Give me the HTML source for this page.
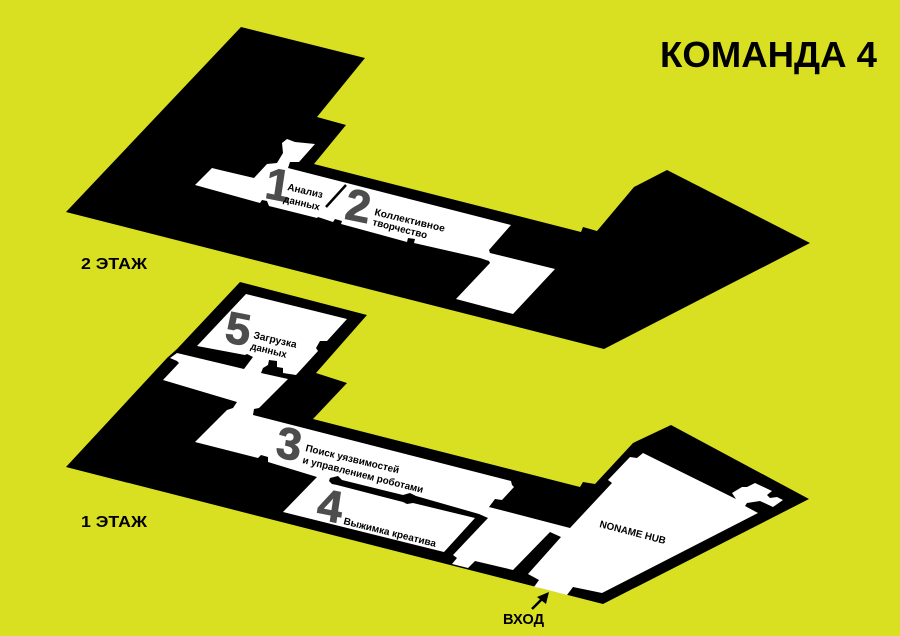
<!DOCTYPE html>
<html><head><meta charset="utf-8"><style>
html,body{margin:0;padding:0;background:#d9e021}
svg{display:block}
text{font-family:"Liberation Sans",sans-serif;font-weight:bold;fill:#000}
.n{font-size:44px;fill:#4d4d4d;stroke:#4d4d4d;stroke-width:.9;text-anchor:middle}
.l{font-size:10px}
</style></head><body>
<svg width="900" height="636" viewBox="0 0 900 636" xmlns="http://www.w3.org/2000/svg">
<rect width="900" height="636" fill="#d9e021"/>
<polygon fill="#000" points="241,27 365,58 317,117 346,125 314,164 581,232 583,227 597,231 634,187 667,170 810,243 604,349 66,212"/>
<polygon fill="#fff" points="195,185 212,168 220,170 254,178 267,164 277,163 283,153 282,143 287,139 295,142 315,144 299,162 290,162 288,168 511,225 489,250 490,253 555,269 513,314 456,299 490,263 489,261 480,258 414,243 415,239 408,238 407,242 341,224 342,221 335,219 333,222 318,217 317,218 269,206 267,201 262,200 260,203"/>
<line x1="346" y1="185" x2="326" y2="207" stroke="#000" stroke-width="2.5"/>
<polygon fill="#000" points="240,282 367,315 316,373 347,383 313,419 580,487 583,482 595,484 633,443 671,425 809,499 603,604 66,467 167,358 177,349"/>
<polygon fill="#fff" points="177,353 244,369 253,357 247,354 245,355 197,346 246,294 347,319 327,341 320,341 316,348 318,351 296,375 283,373 283,368 277,367 277,361 269,360 268,365 263,368 261,373 288,379 259,408 254,409 253,415 511,481 512,485 514,487 502,500 495,499 489,507 570,528 612,483 608,480 630,457 637,458 643,453 736,499 732,493 742,487 747,487 755,483 772,491 767,495 770,498 777,497 783,500 773,507 760,501 747,503 745,506 758,513 602,593 573,587 567,595 540,588 534,587 539,580 528,574 561,537 550,532 513,570 475,561 468,568 452,564 457,558 453,555 488,518 479,514 416,496 410,493 403,495 342,480 338,476 330,478 329,481 332,484 337,485 403,502 407,504 413,503 475,518 444,552 283,512 317,477 268,462 268,457 261,455 258,458 195,442 227,410 233,408 237,402 163,380 179,363 177,361 170,358"/>
<text x="660" y="67" font-size="36" textLength="217" lengthAdjust="spacingAndGlyphs">КОМАНДА 4</text>
<text x="81" y="269" font-size="16" textLength="66" lengthAdjust="spacingAndGlyphs">2 ЭТАЖ</text>
<text x="81" y="527" font-size="16" textLength="66" lengthAdjust="spacingAndGlyphs">1 ЭТАЖ</text>
<text x="503" y="624" font-size="15" textLength="41" lengthAdjust="spacingAndGlyphs">ВХОД</text>
<line x1="532" y1="609" x2="543" y2="598" stroke="#000" stroke-width="2.6"/>
<polygon fill="#000" points="549,592 537,597 546,604"/>
<text class="n" transform="matrix(1 .2 -.15 1 276 200)">1</text>
<text class="n" transform="matrix(1 .2 -.15 1 356 221)">2</text>
<text class="n" transform="matrix(1 .2 -.15 1 287 459)">3</text>
<text class="n" transform="matrix(1 .2 -.15 1 328 521)">4</text>
<text class="n" transform="matrix(1 .2 -.15 1 236 344)">5</text>
<text class="l" transform="translate(287 190) rotate(13)" textLength="36" lengthAdjust="spacingAndGlyphs">Анализ</text>
<text class="l" transform="translate(283 202) rotate(13)" textLength="37" lengthAdjust="spacingAndGlyphs">данных</text>
<text class="l" transform="translate(374 215) rotate(13.5)" textLength="72" lengthAdjust="spacingAndGlyphs">Коллективное</text>
<text class="l" transform="translate(372 225) rotate(14)" textLength="56" lengthAdjust="spacingAndGlyphs">творчество</text>
<text class="l" transform="translate(253 338) rotate(13)" textLength="44" lengthAdjust="spacingAndGlyphs">Загрузка</text>
<text class="l" transform="translate(250 349) rotate(14)" textLength="37" lengthAdjust="spacingAndGlyphs">данных</text>
<text class="l" transform="translate(305 451) rotate(13.5)" textLength="96" lengthAdjust="spacingAndGlyphs">Поиск уязвимостей</text>
<text class="l" transform="translate(302 463) rotate(14)" textLength="124" lengthAdjust="spacingAndGlyphs">и управлением роботами</text>
<text class="l" transform="translate(343 524) rotate(14)" textLength="95" lengthAdjust="spacingAndGlyphs">Выжимка креатива</text>
<text class="l" transform="translate(599 527) rotate(14.5)" textLength="68" lengthAdjust="spacingAndGlyphs">NONAME HUB</text>
</svg>
</body></html>
